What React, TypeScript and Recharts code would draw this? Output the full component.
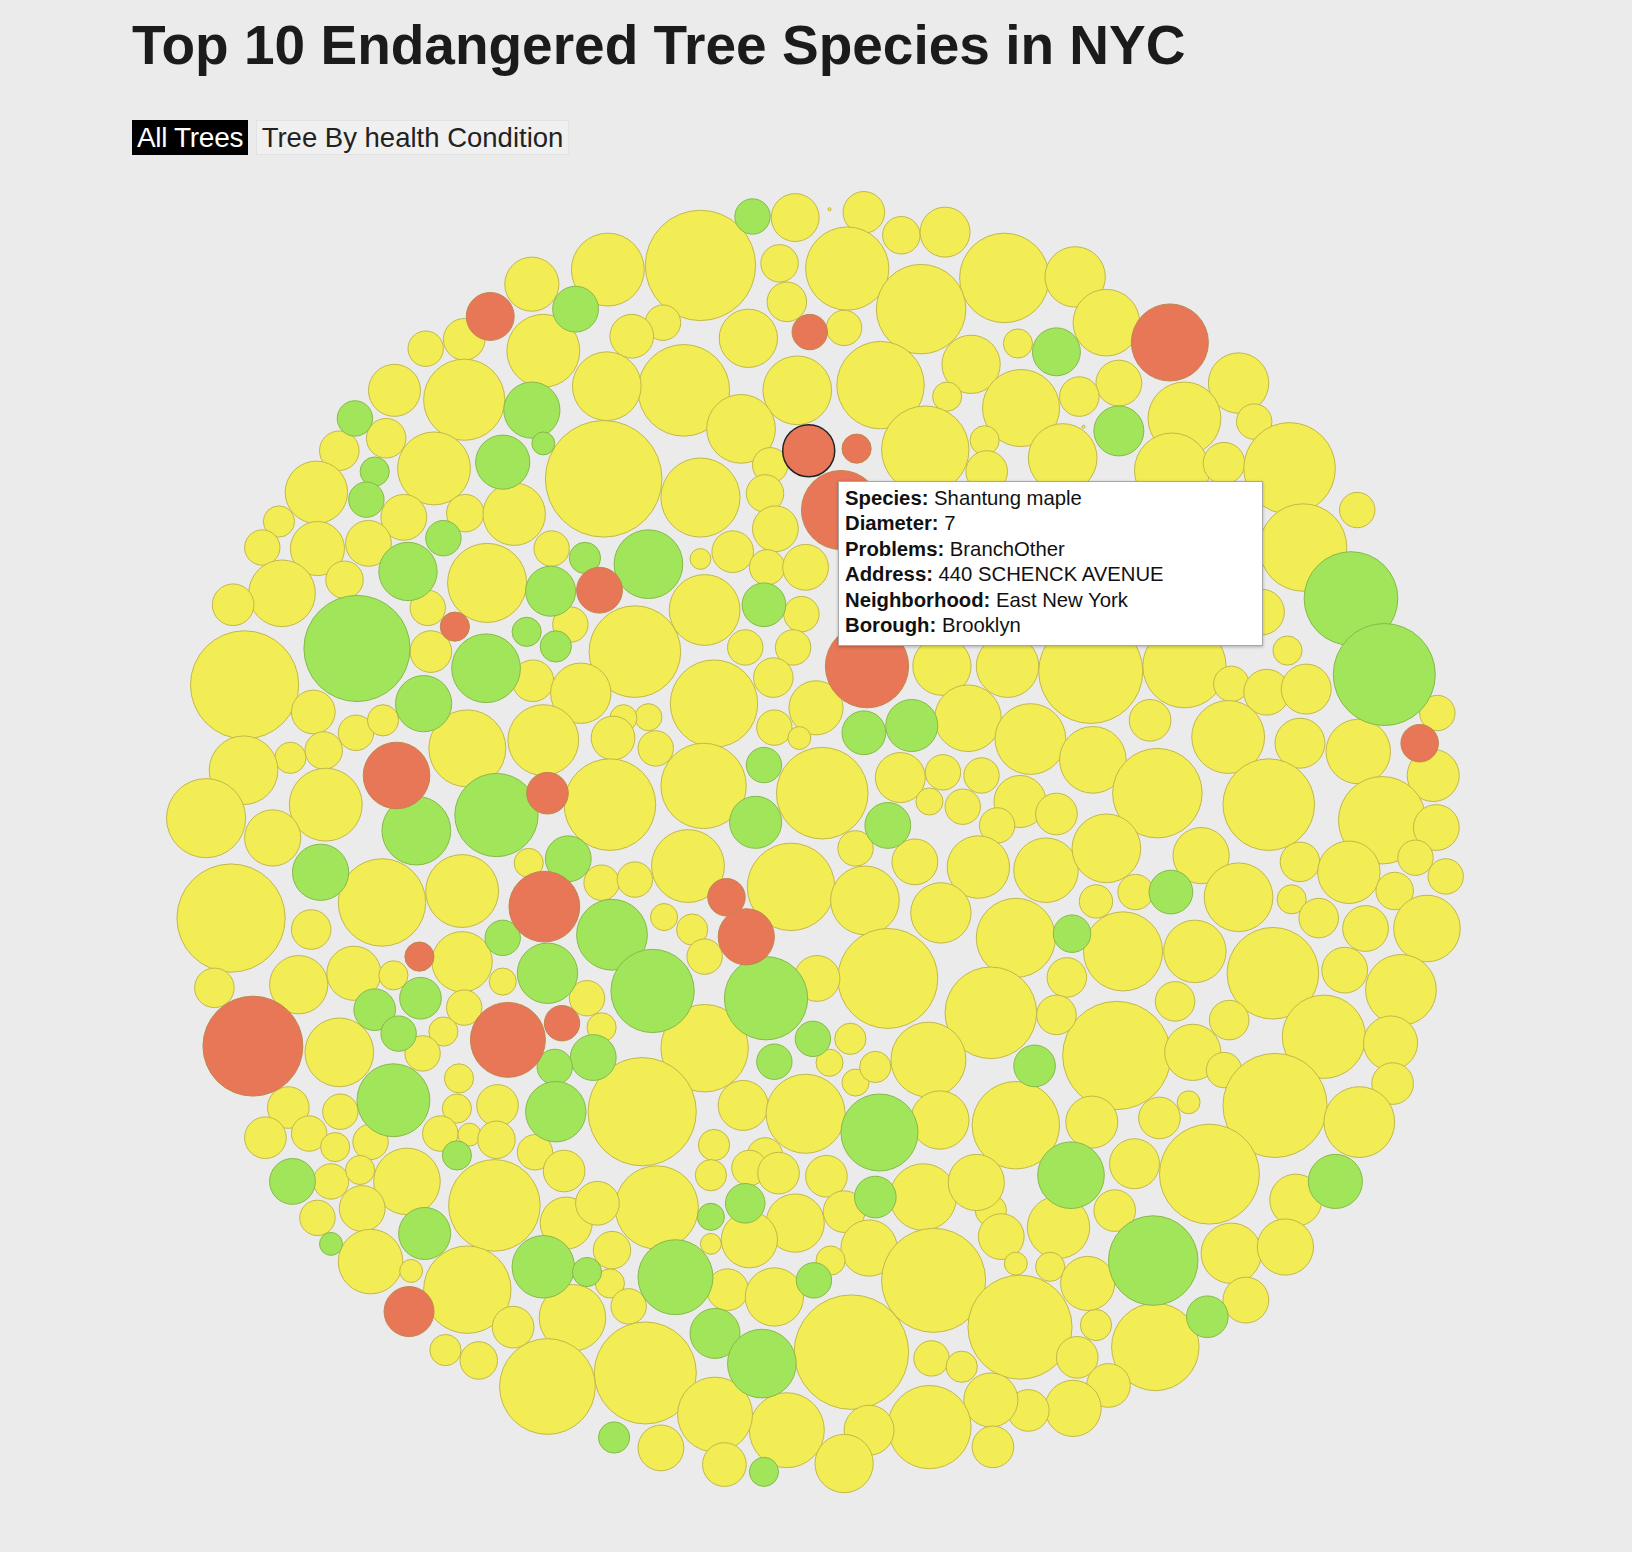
import { Scatter, ScatterChart, XAxis, YAxis } from "recharts";

// bubble positions / radii, in picture units (1568 x 1491)
type Row = [number, number, number];

const fairTrees: Row[] = [
  [764,209,23],[830,204,20],[866,226,18],[908,223,24],[673,255,53],[584,259,35],[814,258,40],[749,253,18],
  [965,267,43],[1033,266,29],[885,297,43],[511,273,26],[756,290,19],[719,325,28],[811,315,17],[637,310,17],
  [607,323,21],[522,337,35],[446,326,20],[409,335,17],[1063,310,32],[978,330,14],[933,350,28],[1075,368,22],
  [1037,381,19],[1190,368,29],[846,370,42],[766,375,33],[657,375,44],[583,371,33],[446,384,39],[379,375,25],
  [981,392,37],[910,381,14],[1138,402,35],[1205,405,17],[371,421,19],[326,433,19],[712,412,33],[417,450,35],
  [580,460,56],[889,432,42],[946,423,14],[1021,440,33],[1126,452,36],[1176,445,20],[948,453,20],[1239,450,44],
  [304,473,30],[388,497,22],[447,493,18],[494,494,30],[673,478,38],[740,447,17],[735,474,18],[1304,490,17],
  [268,501,15],[252,526,17],[305,527,26],[354,522,22],[530,527,17],[704,530,20],[745,508,22],[1252,526,42],
  [468,560,38],[673,537,10],[737,545,17],[774,545,22],[331,557,18],[271,570,32],[224,581,20],[677,586,34],
  [770,590,17],[411,584,17],[548,600,17],[610,626,44],[716,622,17],[762,622,17],[1212,588,22],[1237,625,14],
  [235,658,52],[414,626,20],[512,654,20],[558,666,29],[686,676,42],[743,651,19],[905,640,28],[968,640,30],
  [1048,645,50],[1138,640,40],[1183,657,17],[1217,665,22],[1255,662,24],[1381,685,17],[301,684,21],[623,689,13],
  [599,690,13],[784,680,26],[930,690,32],[1105,692,20],[1180,708,35],[990,710,34],[342,704,17],[368,692,15],
  [311,721,18],[279,728,15],[234,740,33],[449,719,37],[522,711,34],[589,709,21],[630,719,17],[744,699,17],
  [768,709,11],[1249,714,24],[1305,722,31],[676,755,41],[790,762,44],[865,747,24],[906,742,17],[943,745,17],
  [1050,730,32],[1112,762,43],[1219,773,44],[1377,745,25],[1328,788,42],[313,773,35],[198,786,38],[586,773,44],
  [925,775,17],[893,770,13],[980,770,25],[958,793,17],[1015,782,20],[1380,795,22],[262,805,27],[508,829,14],
  [661,832,35],[760,852,42],[822,815,17],[879,828,22],[940,833,30],[1005,836,31],[1063,815,33],[1154,822,27],
  [1249,828,19],[1296,838,30],[1360,824,17],[1389,842,17],[367,867,42],[444,856,35],[578,848,17],[610,845,17],
  [222,882,52],[831,865,33],[904,877,29],[1053,866,16],[1091,857,17],[1190,862,33],[1241,864,14],[1267,882,19],
  [1340,856,18],[1371,892,32],[299,893,19],[638,881,13],[665,893,15],[976,901,38],[1079,914,38],[1148,914,30],
  [1312,892,22],[444,924,29],[287,946,28],[340,935,26],[378,937,14],[853,940,48],[1223,935,44],[1292,932,22],
  [1346,951,34],[206,949,19],[483,943,13],[677,919,17],[785,940,22],[952,973,44],[1025,939,19],[1129,962,19],
  [446,968,17],[564,959,17],[326,1011,33],[426,991,14],[578,987,14],[677,1007,42],[1073,1014,52],[1015,975,19],
  [1181,980,19],[1272,996,40],[1336,1002,26],[817,998,15],[892,1018,36],[1146,1011,27],[406,1012,17],[441,1036,14],
  [797,1021,13],[822,1040,13],[841,1025,15],[1176,1028,17],[1338,1041,20],[277,1064,20],[327,1068,17],[439,1065,14],
  [478,1062,20],[617,1068,52],[714,1062,24],[774,1070,38],[903,1076,28],[976,1081,42],[1049,1078,25],[1114,1074,20],
  [1142,1059,11],[1225,1062,50],[1306,1078,34],[255,1093,20],[297,1089,17],[356,1097,17],[423,1089,17],[451,1090,11],
  [477,1095,18],[322,1102,14],[686,1100,15],[514,1107,17],[735,1110,17],[1090,1118,24],[1162,1128,48],[391,1135,32],
  [475,1158,44],[542,1125,20],[318,1135,17],[346,1124,14],[631,1160,40],[683,1129,15],[720,1122,17],[748,1127,20],
  [794,1130,20],[887,1150,32],[952,1163,15],[938,1136,27],[1245,1153,25],[305,1170,17],[348,1161,22],[544,1175,25],
  [574,1156,21],[764,1175,28],[811,1164,20],[1017,1179,30],[1071,1163,20],[962,1188,22],[356,1212,31],[588,1201,18],
  [683,1195,10],[720,1191,27],[835,1199,27],[1183,1204,29],[1235,1198,27],[897,1230,50],[976,1214,11],[1009,1217,14],
  [1045,1233,26],[449,1239,42],[586,1233,14],[604,1255,17],[699,1239,20],[744,1246,28],[798,1211,14],[395,1221,11],
  [980,1275,50],[1197,1249,22],[1053,1273,15],[1110,1294,42],[1035,1304,20],[550,1266,32],[493,1275,20],[428,1297,15],
  [460,1307,18],[620,1319,49],[818,1299,55],[526,1332,46],[895,1305,17],[924,1313,15],[1065,1331,21],[1031,1353,27],
  [988,1355,20],[952,1345,26],[893,1371,40],[756,1374,36],[687,1359,36],[835,1374,24],[635,1391,22],[696,1407,21],
  [811,1406,28],[954,1390,20],[797,201,1.5],[1041,410,1.5],
  // under the tooltip
  [860,520,30],[935,505,32],[1005,500,28],[1075,505,34],[1150,505,28],[885,585,28],[960,575,34],[1035,580,28],
  [1110,580,32],[1180,560,18],
];

const goodTrees: Row[] = [
  [723,208,17],[553,297,22],[1015,338,23],[1075,414,24],[341,402,17],[511,394,27],[522,426,11],[483,444,26],
  [360,453,14],[352,480,17],[426,517,17],[392,549,28],[562,536,15],[623,542,33],[529,568,24],[734,581,21],
  [343,623,51],[506,607,14],[534,621,15],[1298,575,45],[1330,648,49],[467,642,33],[407,676,27],[830,704,21],
  [876,697,25],[734,735,17],[477,783,40],[853,793,22],[726,790,25],[400,798,33],[546,825,22],[308,838,27],
  [1125,857,21],[483,901,17],[1030,897,18],[526,935,29],[588,898,34],[627,952,40],[736,959,40],[404,959,20],
  [360,970,20],[383,993,17],[781,998,17],[570,1016,22],[533,1025,17],[744,1020,17],[994,1024,20],[378,1057,35],
  [534,1068,29],[845,1088,37],[1029,1129,32],[439,1110,14],[281,1135,22],[841,1150,20],[1283,1135,26],[716,1156,19],
  [683,1169,13],[318,1195,11],[408,1185,25],[1108,1211,43],[522,1217,30],[649,1227,36],[564,1222,14],[782,1230,17],
  [1160,1265,20],[687,1281,24],[732,1310,33],[590,1381,15],[734,1414,14],
];

const poorTrees: Row[] = [
  [471,304,23],[778,319,17],[1124,329,37],[823,431,14],[808,490,38],[576,567,22],[437,602,14],[833,640,40],
  [1364,714,18],[381,745,32],[526,762,20],[523,871,34],[698,862,18],[717,900,27],[403,919,14],[243,1005,48],
  [488,999,36],[540,983,17],[393,1260,24],
];

// the hovered tree (Shantung maple)
const selectedTree: Row[] = [[777,433,25]];

const tooltipRows = [
  ["Species:", "Shantung maple"],
  ["Diameter:", "7"],
  ["Problems:", "BranchOther"],
  ["Address:", "440 SCHENCK AVENUE"],
  ["Neighborhood:", "East New York"],
  ["Borough:", "Brooklyn"],
];

const W = 1632;
const H = 1552;
const PX = W / 1568;
const FONT = '"Liberation Sans", Arial, Helvetica, sans-serif';

const toPoints = (rows: Row[]) => rows.map(([x, y, r]) => ({ x, y, r }));

function bubble(fill: string, stroke: string, strokeWidth = 1) {
  return (props: any) => (
    <circle
      cx={props.cx}
      cy={props.cy}
      r={props.payload.r * PX}
      fill={fill}
      stroke={stroke}
      strokeWidth={strokeWidth}
    />
  );
}

export default function App() {
  return (
    <div style={{ position: "relative", width: W, height: H, background: "#ebebeb", fontFamily: FONT }}>
      <style>{`body{margin:0;background:#ebebeb}`}</style>

      <div
        style={{
          position: "absolute",
          left: 132,
          top: 18,
          fontSize: 55,
          lineHeight: "55px",
          fontWeight: 700,
          color: "#1b1b1b",
          whiteSpace: "nowrap",
        }}
      >
        Top 10 Endangered Tree Species in NYC
      </div>

      <div style={{ position: "absolute", left: 132, top: 120, display: "flex", gap: 8 }}>
        <div
          style={{
            width: 116,
            height: 35,
            lineHeight: "35px",
            textAlign: "center",
            background: "#000",
            color: "#fff",
            fontSize: 28,
            letterSpacing: -0.3,
          }}
        >
          All Trees
        </div>
        <div
          style={{
            width: 313,
            height: 35,
            lineHeight: "33px",
            textAlign: "center",
            background: "#f0f0f0",
            border: "1px solid #e2e2e2",
            boxSizing: "border-box",
            color: "#222",
            fontSize: 27.5,
          }}
        >
          Tree By health Condition
        </div>
      </div>

      <div style={{ position: "absolute", left: 0, top: 0 }}>
        <ScatterChart width={W} height={H} margin={{ top: 0, right: 0, bottom: 0, left: 0 }}>
          <XAxis type="number" dataKey="x" domain={[0, 1568]} hide />
          <YAxis type="number" dataKey="y" domain={[0, 1491]} reversed hide />
          <Scatter data={toPoints(fairTrees)} shape={bubble("#f2ec55", "#c2b84a")} isAnimationActive={false} />
          <Scatter data={toPoints(goodTrees)} shape={bubble("#a1e65a", "#86b94a")} isAnimationActive={false} />
          <Scatter data={toPoints(poorTrees)} shape={bubble("#e77756", "#c0864e")} isAnimationActive={false} />
          <Scatter data={toPoints(selectedTree)} shape={bubble("#e77756", "#222", 1.5)} isAnimationActive={false} />
        </ScatterChart>
      </div>

      <div
        style={{
          position: "absolute",
          left: 838,
          top: 481,
          width: 425,
          height: 165,
          boxSizing: "border-box",
          background: "#fff",
          border: "1px solid #a8a8a8",
          boxShadow: "0 1px 3px rgba(0,0,0,0.25)",
          padding: "4px 6px",
          fontSize: 20.3,
          lineHeight: "25.4px",
          color: "#111",
        }}
      >
        {tooltipRows.map(([k, v]) => (
          <div key={k} style={{ whiteSpace: "nowrap" }}>
            <b>{k}</b> {v}
          </div>
        ))}
      </div>
    </div>
  );
}
